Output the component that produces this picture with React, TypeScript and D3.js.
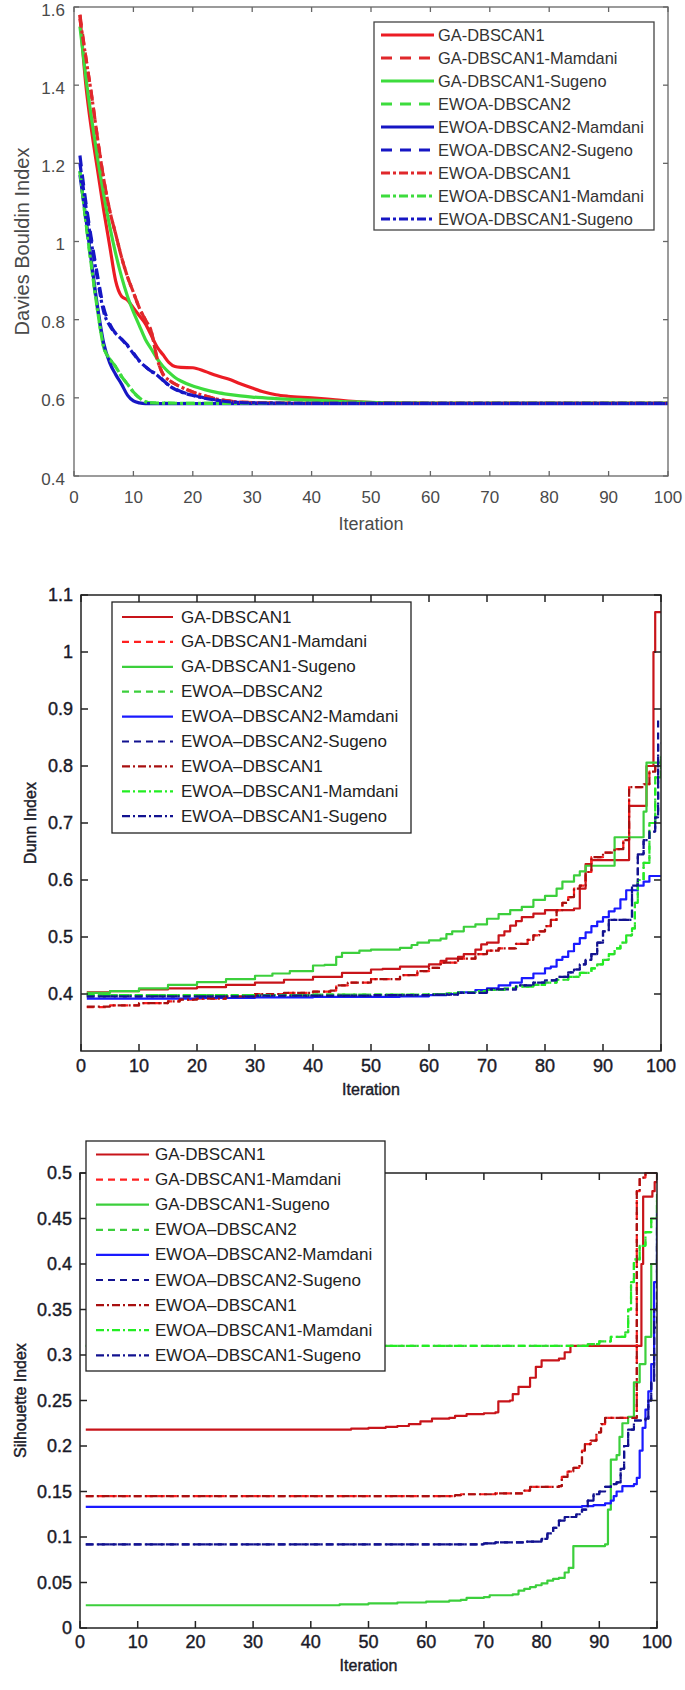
import React from 'react';
import * as d3 from 'd3';

type Pt = [number, number];

// ---------- labels ----------
const namesDB = ['GA-DBSCAN1', 'GA-DBSCAN1-Mamdani', 'GA-DBSCAN1-Sugeno', 'EWOA-DBSCAN2', 'EWOA-DBSCAN2-Mamdani', 'EWOA-DBSCAN2-Sugeno', 'EWOA-DBSCAN1', 'EWOA-DBSCAN1-Mamdani', 'EWOA-DBSCAN1-Sugeno'];
const namesDS = ['GA-DBSCAN1', 'GA-DBSCAN1-Mamdani', 'GA-DBSCAN1-Sugeno', 'EWOA\u2013DBSCAN2', 'EWOA\u2013DBSCAN2-Mamdani', 'EWOA\u2013DBSCAN2-Sugeno', 'EWOA\u2013DBSCAN1', 'EWOA\u2013DBSCAN1-Mamdani', 'EWOA\u2013DBSCAN1-Sugeno'];

const iterationTicks = [0, 10, 20, 30, 40, 50, 60, 70, 80, 90, 100];
const dbTicks = [0.4, 0.6, 0.8, 1, 1.2, 1.4, 1.6];
const dunnTicks = [0.4, 0.5, 0.6, 0.7, 0.8, 0.9, 1, 1.1];
const silTicks = [0, 0.05, 0.1, 0.15, 0.2, 0.25, 0.3, 0.35, 0.4, 0.45, 0.5];

// ---------- Davies Bouldin ----------
const dbGa1: Pt[] = [[1, 1.58], [2, 1.4], [3, 1.28], [4, 1.18], [5, 1.08], [6, 0.99], [7, 0.9], [8, 0.86], [9, 0.85], [10, 0.83], [11, 0.81], [12, 0.79], [13, 0.76], [14, 0.73], [15, 0.71], [16, 0.69], [17, 0.68], [18, 0.678], [20, 0.677], [22, 0.668], [24, 0.657], [26, 0.648], [28, 0.636], [30, 0.625], [32, 0.615], [34, 0.608], [36, 0.604], [40, 0.6], [44, 0.595], [48, 0.59], [52, 0.587], [60, 0.586], [100, 0.586]];
const dbGa1Mamdani: Pt[] = [[1, 1.58], [2, 1.47], [3, 1.37], [4, 1.26], [5, 1.16], [6, 1.08], [7, 1.02], [8, 0.96], [9, 0.91], [10, 0.87], [11, 0.83], [12, 0.8], [13, 0.77], [14, 0.7], [15, 0.66], [16, 0.645], [18, 0.628], [20, 0.615], [22, 0.605], [24, 0.597], [26, 0.592], [30, 0.588], [40, 0.586], [100, 0.586]];
const dbGa1Sugeno: Pt[] = [[1, 1.55], [2, 1.42], [3, 1.31], [4, 1.21], [5, 1.12], [6, 1.04], [7, 0.97], [8, 0.91], [9, 0.86], [10, 0.82], [11, 0.785], [12, 0.75], [13, 0.725], [14, 0.7], [15, 0.68], [16, 0.665], [17, 0.652], [18, 0.643], [20, 0.63], [22, 0.621], [24, 0.614], [26, 0.609], [28, 0.605], [30, 0.602], [34, 0.598], [40, 0.594], [46, 0.59], [52, 0.587], [60, 0.586], [100, 0.586]];
const dbEwoa2: Pt[] = [[1, 1.18], [2, 1.05], [3, 0.93], [4, 0.82], [5, 0.73], [6, 0.7], [7, 0.68], [8, 0.655], [9, 0.635], [10, 0.615], [11, 0.6], [12, 0.59], [13, 0.587], [20, 0.586], [100, 0.586]];
const dbEwoa2Mamdani: Pt[] = [[1, 1.17], [2, 1.06], [3, 0.94], [4, 0.83], [5, 0.74], [6, 0.69], [7, 0.66], [8, 0.635], [9, 0.607], [10, 0.592], [11, 0.587], [12, 0.585], [100, 0.585]];
const dbEwoa2Sugeno: Pt[] = [[1, 1.22], [2, 1.1], [3, 1.0], [4, 0.91], [5, 0.83], [6, 0.79], [7, 0.765], [8, 0.75], [9, 0.735], [10, 0.715], [11, 0.695], [12, 0.68], [13, 0.668], [14, 0.66], [15, 0.645], [16, 0.632], [17, 0.623], [18, 0.616], [20, 0.607], [22, 0.6], [24, 0.594], [26, 0.59], [30, 0.587], [40, 0.586], [100, 0.586]];
const dbEwoa1: Pt[] = [[1, 1.57], [2, 1.47], [3, 1.37], [4, 1.26], [5, 1.16], [6, 1.08], [7, 1.02], [8, 0.96], [9, 0.91], [10, 0.87], [11, 0.83], [12, 0.8], [13, 0.77], [14, 0.7], [15, 0.66], [16, 0.645], [18, 0.628], [20, 0.615], [22, 0.605], [24, 0.597], [26, 0.592], [30, 0.588], [40, 0.586], [100, 0.586]];
const dbEwoa1Mamdani: Pt[] = [[1, 1.18], [2, 1.05], [3, 0.93], [4, 0.82], [5, 0.73], [6, 0.7], [7, 0.68], [8, 0.655], [9, 0.635], [10, 0.615], [11, 0.6], [12, 0.59], [13, 0.587], [20, 0.586], [100, 0.586]];
const dbEwoa1Sugeno: Pt[] = [[1, 1.2], [2, 1.09], [3, 0.99], [4, 0.9], [5, 0.82], [6, 0.785], [7, 0.765], [8, 0.75], [9, 0.733], [10, 0.713], [11, 0.694], [12, 0.68], [13, 0.668], [14, 0.658], [15, 0.644], [16, 0.631], [17, 0.622], [18, 0.615], [20, 0.606], [22, 0.599], [24, 0.594], [26, 0.59], [30, 0.587], [40, 0.586], [100, 0.586]];

// ---------- Dunn ----------
const dnGa1: Pt[] = [[1, 0.403], [5, 0.405], [10, 0.408], [15, 0.41], [20, 0.412], [25, 0.416], [30, 0.42], [35, 0.425], [40, 0.43], [45, 0.437], [50, 0.443], [52, 0.444], [55, 0.448], [60, 0.452], [62, 0.458], [63, 0.462], [65, 0.465], [66, 0.47], [68, 0.478], [69, 0.487], [70, 0.49], [72, 0.503], [73, 0.51], [74, 0.52], [75, 0.528], [76, 0.535], [78, 0.541], [80, 0.547], [85, 0.55], [86, 0.585], [87, 0.628], [88, 0.635], [94.5, 0.73], [97.5, 0.8], [98.7, 1.0], [99, 1.07], [100, 1.07]];
const dnGa1Mamdani: Pt[] = [[1, 0.377], [5, 0.38], [10, 0.384], [15, 0.387], [17, 0.39], [20, 0.392], [25, 0.396], [30, 0.4], [35, 0.402], [40, 0.404], [43, 0.406], [44, 0.415], [46, 0.42], [50, 0.426], [55, 0.433], [58, 0.44], [60, 0.446], [62, 0.455], [65, 0.462], [68, 0.47], [70, 0.476], [72, 0.48], [75, 0.488], [77, 0.495], [78, 0.503], [79, 0.51], [80, 0.519], [81, 0.53], [82, 0.547], [83, 0.56], [84, 0.57], [85, 0.585], [86, 0.59], [87, 0.614], [88, 0.64], [90, 0.648], [92, 0.654], [93.5, 0.67], [94.5, 0.763], [97, 0.768], [98, 0.79], [99, 0.8], [100, 0.8]];
const dnGa1Sugeno: Pt[] = [[1, 0.402], [5, 0.405], [10, 0.41], [15, 0.416], [20, 0.421], [25, 0.426], [30, 0.432], [33, 0.436], [36, 0.44], [40, 0.45], [42, 0.451], [44, 0.465], [45, 0.472], [48, 0.476], [50, 0.478], [55, 0.481], [57, 0.486], [58, 0.49], [60, 0.494], [62, 0.497], [63, 0.505], [64, 0.51], [66, 0.518], [68, 0.522], [70, 0.532], [72, 0.54], [74, 0.547], [76, 0.553], [78, 0.565], [80, 0.572], [82, 0.585], [83, 0.597], [85, 0.608], [86, 0.615], [87, 0.625], [92, 0.675], [97, 0.72], [97.5, 0.806], [100, 0.806]];
const dnEwoa2: Pt[] = [[1, 0.398], [20, 0.398], [40, 0.399], [60, 0.4], [63, 0.401], [65, 0.403], [68, 0.405], [70, 0.407], [73, 0.41], [75, 0.413], [78, 0.416], [80, 0.42], [82, 0.425], [84, 0.43], [86, 0.437], [88, 0.445], [89, 0.452], [90, 0.46], [91, 0.47], [92, 0.48], [93, 0.49], [94, 0.503], [95, 0.515], [95.5, 0.56], [96, 0.6], [97, 0.63], [98, 0.7], [99, 0.78], [100, 0.82]];
const dnEwoa2Mamdani: Pt[] = [[1, 0.392], [20, 0.393], [30, 0.394], [40, 0.395], [55, 0.396], [60, 0.398], [63, 0.4], [65, 0.403], [68, 0.407], [70, 0.41], [72, 0.415], [74, 0.42], [76, 0.428], [78, 0.436], [80, 0.445], [81, 0.448], [82, 0.46], [83, 0.465], [84, 0.475], [85, 0.488], [86, 0.498], [87, 0.508], [88, 0.519], [89, 0.527], [90, 0.535], [91, 0.545], [92, 0.55], [93, 0.566], [94, 0.582], [96, 0.59], [97, 0.597], [98, 0.607], [100, 0.607]];
const dnEwoa2Sugeno: Pt[] = [[1, 0.396], [30, 0.397], [50, 0.398], [60, 0.399], [65, 0.402], [70, 0.408], [75, 0.415], [78, 0.42], [80, 0.424], [82, 0.43], [84, 0.438], [85, 0.443], [86, 0.452], [87, 0.46], [88, 0.47], [89, 0.49], [90, 0.51], [91, 0.53], [95, 0.59], [96, 0.645], [97, 0.67], [98, 0.685], [99, 0.71], [99.5, 0.88], [100, 0.88]];
const dnEwoa1: Pt[] = [[1, 0.378], [5, 0.38], [10, 0.384], [15, 0.387], [17, 0.39], [20, 0.392], [25, 0.396], [30, 0.4], [35, 0.402], [40, 0.404], [43, 0.406], [44, 0.415], [46, 0.42], [50, 0.426], [55, 0.433], [58, 0.44], [60, 0.446], [62, 0.455], [65, 0.462], [68, 0.47], [70, 0.476], [72, 0.48], [75, 0.488], [77, 0.495], [78, 0.503], [79, 0.51], [80, 0.519], [81, 0.53], [82, 0.547], [83, 0.56], [84, 0.57], [85, 0.585], [86, 0.59], [87, 0.614], [88, 0.64], [90, 0.648], [92, 0.654], [93.5, 0.67], [94.5, 0.763], [97, 0.768], [98, 0.79], [99, 0.8], [100, 0.8]];
const dnEwoa1Mamdani: Pt[] = [[1, 0.398], [20, 0.398], [40, 0.399], [60, 0.4], [63, 0.401], [65, 0.403], [68, 0.405], [70, 0.407], [73, 0.41], [75, 0.413], [78, 0.416], [80, 0.42], [82, 0.425], [84, 0.43], [86, 0.437], [88, 0.445], [89, 0.452], [90, 0.46], [91, 0.47], [92, 0.48], [93, 0.49], [94, 0.503], [95, 0.515], [95.5, 0.56], [96, 0.6], [97, 0.63], [98, 0.7], [99, 0.78], [100, 0.82]];
const dnEwoa1Sugeno: Pt[] = [[1, 0.396], [30, 0.397], [50, 0.398], [60, 0.399], [65, 0.402], [70, 0.408], [75, 0.415], [78, 0.42], [80, 0.424], [82, 0.43], [84, 0.438], [85, 0.443], [86, 0.452], [87, 0.46], [88, 0.47], [89, 0.49], [90, 0.51], [91, 0.53], [94.5, 0.53], [95, 0.59], [96, 0.645], [97, 0.67], [98, 0.685], [99, 0.71], [99.5, 0.84], [100, 0.84]];

// ---------- Silhouette ----------
const siGa1: Pt[] = [[1, 0.218], [47, 0.219], [50, 0.22], [53, 0.221], [55, 0.222], [57, 0.224], [59, 0.227], [61, 0.23], [64, 0.231], [65, 0.233], [67, 0.235], [70, 0.236], [72, 0.237], [72.5, 0.249], [74.5, 0.25], [75, 0.257], [76, 0.265], [78, 0.275], [79, 0.287], [80, 0.294], [83, 0.296], [84, 0.303], [85, 0.31], [97, 0.31], [97.3, 0.4], [97.6, 0.474], [99.2, 0.48], [99.6, 0.49], [100, 0.5]];
const siGa1Mamdani: Pt[] = [[1, 0.145], [65, 0.146], [66, 0.147], [72, 0.148], [77, 0.151], [78, 0.155], [83, 0.156], [83.5, 0.166], [84.5, 0.172], [85.5, 0.176], [86.5, 0.178], [87, 0.195], [87.5, 0.202], [88.5, 0.206], [89.5, 0.215], [90.3, 0.224], [91, 0.231], [96.2, 0.231], [96.5, 0.48], [97, 0.495], [98, 0.5], [100, 0.5]];
const siGa1Sugeno: Pt[] = [[1, 0.025], [45, 0.026], [50, 0.027], [55, 0.028], [60, 0.029], [64, 0.03], [66, 0.031], [67, 0.033], [70, 0.034], [71, 0.036], [75, 0.037], [76, 0.041], [77, 0.043], [78, 0.045], [79, 0.047], [80, 0.049], [81, 0.052], [82, 0.054], [83, 0.055], [84, 0.061], [84.7, 0.066], [85.5, 0.09], [91, 0.092], [91.5, 0.13], [92, 0.185], [93, 0.19], [93.5, 0.21], [94, 0.225], [95, 0.232], [96, 0.27], [97, 0.29], [98, 0.32], [99, 0.4], [100, 0.477]];
const siEwoa2: Pt[] = [[1, 0.31], [85, 0.31], [88, 0.312], [90, 0.315], [92, 0.32], [94.5, 0.325], [95, 0.35], [95.5, 0.38], [96, 0.405], [97, 0.42], [98, 0.435], [99, 0.45], [100, 0.465]];
const siEwoa2Mamdani: Pt[] = [[1, 0.133], [87, 0.134], [89, 0.135], [91, 0.137], [92, 0.14], [92.5, 0.145], [93, 0.15], [94, 0.156], [96, 0.158], [96.5, 0.165], [97, 0.195], [97.5, 0.22], [98, 0.24], [98.5, 0.26], [99, 0.29], [99.5, 0.38], [100, 0.46]];
const siEwoa2Sugeno: Pt[] = [[1, 0.092], [70, 0.093], [72, 0.094], [77, 0.095], [80, 0.098], [81, 0.104], [82, 0.11], [83, 0.118], [84, 0.122], [86, 0.125], [87, 0.13], [88, 0.14], [89, 0.147], [90, 0.15], [91, 0.155], [92, 0.158], [93, 0.16], [93.7, 0.175], [94.3, 0.2], [95, 0.218], [96, 0.228], [98, 0.23], [98.5, 0.25], [99, 0.27], [99.5, 0.33], [100, 0.42]];
const siEwoa1: Pt[] = [[1, 0.145], [65, 0.146], [66, 0.147], [72, 0.148], [77, 0.151], [78, 0.155], [83, 0.156], [83.5, 0.166], [84.5, 0.172], [85.5, 0.176], [86.5, 0.178], [87, 0.195], [87.5, 0.202], [88.5, 0.206], [89.5, 0.215], [90.3, 0.224], [91, 0.231], [96.2, 0.231], [96.5, 0.48], [97, 0.495], [98, 0.5], [100, 0.5]];
const siEwoa1Mamdani: Pt[] = [[1, 0.31], [85, 0.31], [88, 0.312], [90, 0.315], [92, 0.32], [94.5, 0.325], [95, 0.35], [95.5, 0.38], [96, 0.405], [97, 0.42], [98, 0.435], [99, 0.45], [100, 0.47]];
const siEwoa1Sugeno: Pt[] = [[1, 0.092], [70, 0.093], [72, 0.094], [77, 0.095], [80, 0.098], [81, 0.104], [82, 0.11], [83, 0.118], [84, 0.122], [86, 0.125], [87, 0.13], [88, 0.14], [89, 0.147], [90, 0.15], [91, 0.155], [92, 0.158], [93, 0.16], [93.7, 0.175], [94.3, 0.2], [95, 0.218], [96, 0.228], [98, 0.23], [98.5, 0.25], [99, 0.27], [99.5, 0.35], [100, 0.44]];

const dbSeries = [dbGa1, dbGa1Mamdani, dbGa1Sugeno, dbEwoa2, dbEwoa2Mamdani, dbEwoa2Sugeno, dbEwoa1, dbEwoa1Mamdani, dbEwoa1Sugeno];
const dnSeries = [dnGa1, dnGa1Mamdani, dnGa1Sugeno, dnEwoa2, dnEwoa2Mamdani, dnEwoa2Sugeno, dnEwoa1, dnEwoa1Mamdani, dnEwoa1Sugeno];
const siSeries = [siGa1, siGa1Mamdani, siGa1Sugeno, siEwoa2, siEwoa2Mamdani, siEwoa2Sugeno, siEwoa1, siEwoa1Mamdani, siEwoa1Sugeno];

type Style = { color: string; dash: string; width: number };

const FONT = "'Liberation Sans', Arial, Helvetica, sans-serif";

const styles1: Style[] = [
  { color: '#ec1c24', dash: '', width: 3.2 },
  { color: '#e0282b', dash: '11 8', width: 3.2 },
  { color: '#3ddc3d', dash: '', width: 3.2 },
  { color: '#3ddc3d', dash: '11 8', width: 3.2 },
  { color: '#1616c4', dash: '', width: 3.2 },
  { color: '#1616c4', dash: '11 8', width: 3.2 },
  { color: '#e0282b', dash: '9 3 3 3', width: 3.2 },
  { color: '#3ddc3d', dash: '9 3 3 3', width: 3.2 },
  { color: '#1616c4', dash: '9 3 3 3', width: 3.2 },
];
const styles23: Style[] = [
  { color: '#c8141a', dash: '', width: 2.2 },
  { color: '#ff2020', dash: '7 5', width: 2.2 },
  { color: '#3ccf3c', dash: '', width: 2.2 },
  { color: '#3ccf3c', dash: '7 5', width: 2.2 },
  { color: '#1a1aff', dash: '', width: 2.2 },
  { color: '#121290', dash: '7 5', width: 2.2 },
  { color: '#a81010', dash: '8 3 2 3', width: 2.2 },
  { color: '#22ee22', dash: '8 3 2 3', width: 2.2 },
  { color: '#121290', dash: '8 3 2 3', width: 2.2 },
];

interface Cfg {
  id: string;
  left: number; right: number; top: number; bottom: number;
  yDomain: [number, number];
  yTicks: number[];
  series: Pt[][];
  names: string[];
  styles: Style[];
  curve: d3.CurveFactory;
  tickLen: number;
  axisColor: string;
  axisWidth: number;
  textColor: string;
  tickFont: number;
  tickStroke: number;
  yLabelGap: number;
  yLabelDy: number;
  xLabelOffset: number;
  yTitle: string;
  yTitleX: number;
  yTitleFont: number;
  xTitleY: number;
  xTitleFont: number;
  legend: { x0: number; y0: number; x1: number; y1: number; row0: number; rowGap: number; lx0: number; lx1: number; tx: number; font: number; color: string; border: string };
}

function Panel({ cfg }: { cfg: Cfg }) {
  const x = d3.scaleLinear().domain([0, 100]).range([cfg.left, cfg.right]);
  const y = d3.scaleLinear().domain(cfg.yDomain).range([cfg.bottom, cfg.top]);
  const line = d3.line<Pt>().x(d => x(d[0])).y(d => y(d[1])).curve(cfg.curve);
  const fmt = (v: number) => String(+v.toFixed(2));
  const L = cfg.legend;
  const textStyle = { fontFamily: FONT };
  const strokeProps = cfg.tickStroke ? { stroke: cfg.textColor, strokeWidth: cfg.tickStroke } : {};
  return (
    <g>
      <defs>
        <clipPath id={cfg.id + '-clip'}>
          <rect x={cfg.left} y={cfg.top - 2} width={cfg.right - cfg.left} height={cfg.bottom - cfg.top + 2} />
        </clipPath>
      </defs>
      <g clipPath={`url(#${cfg.id}-clip)`} fill="none" strokeLinejoin="round">
        {cfg.series.map((s, i) => (
          <path key={i} d={line(s) || ''} stroke={cfg.styles[i].color} strokeWidth={cfg.styles[i].width} strokeDasharray={cfg.styles[i].dash || undefined} />
        ))}
      </g>
      <rect x={cfg.left} y={cfg.top} width={cfg.right - cfg.left} height={cfg.bottom - cfg.top} fill="none" stroke={cfg.axisColor} strokeWidth={cfg.axisWidth} />
      {iterationTicks.map(t => (
        <g key={'x' + t}>
          <line x1={x(t)} x2={x(t)} y1={cfg.bottom} y2={cfg.bottom - cfg.tickLen} stroke={cfg.axisColor} strokeWidth={cfg.axisWidth} />
          <line x1={x(t)} x2={x(t)} y1={cfg.top} y2={cfg.top + cfg.tickLen} stroke={cfg.axisColor} strokeWidth={cfg.axisWidth} />
          <text x={x(t)} y={cfg.bottom + cfg.xLabelOffset} textAnchor="middle" dominantBaseline="central" fontSize={cfg.tickFont} fill={cfg.textColor} {...strokeProps} style={textStyle}>{t}</text>
        </g>
      ))}
      {cfg.yTicks.map(t => (
        <g key={'y' + t}>
          <line x1={cfg.left} x2={cfg.left + cfg.tickLen} y1={y(t)} y2={y(t)} stroke={cfg.axisColor} strokeWidth={cfg.axisWidth} />
          <line x1={cfg.right} x2={cfg.right - cfg.tickLen} y1={y(t)} y2={y(t)} stroke={cfg.axisColor} strokeWidth={cfg.axisWidth} />
          <text x={cfg.left - cfg.yLabelGap} y={y(t) + cfg.yLabelDy} textAnchor="end" dominantBaseline="central" fontSize={cfg.tickFont} fill={cfg.textColor} {...strokeProps} style={textStyle}>{fmt(t)}</text>
        </g>
      ))}
      <text transform={`translate(${cfg.yTitleX},${(cfg.top + cfg.bottom) / 2}) rotate(-90)`} textAnchor="middle" dominantBaseline="central" fontSize={cfg.yTitleFont} fill={cfg.textColor} {...strokeProps} style={textStyle}>{cfg.yTitle}</text>
      <text x={(cfg.left + cfg.right) / 2} y={cfg.xTitleY} textAnchor="middle" dominantBaseline="central" fontSize={cfg.xTitleFont} fill={cfg.textColor} {...strokeProps} style={textStyle}>Iteration</text>
      <rect x={L.x0} y={L.y0} width={L.x1 - L.x0} height={L.y1 - L.y0} fill="#fff" stroke={L.border} strokeWidth={1.3} />
      {cfg.names.map((n, i) => {
        const ry = L.row0 + i * L.rowGap;
        const st = cfg.styles[i];
        return (
          <g key={'l' + i}>
            <line x1={L.lx0} x2={L.lx1} y1={ry} y2={ry} stroke={st.color} strokeWidth={st.width} strokeDasharray={st.dash || undefined} />
            <text x={L.tx} y={ry} dominantBaseline="central" fontSize={L.font} fill={L.color} style={textStyle}>{n}</text>
          </g>
        );
      })}
    </g>
  );
}

export default function App() {
  const cfg1: Cfg = {
    id: 'db', left: 74, right: 668, top: 7, bottom: 476,
    yDomain: [0.4, 1.6], yTicks: dbTicks, series: dbSeries, names: namesDB, styles: styles1,
    curve: d3.curveMonotoneX, tickLen: 5, axisColor: '#666', axisWidth: 1.3, textColor: '#4a4a4a',
    tickFont: 17, tickStroke: 0, yLabelGap: 9, yLabelDy: 3, xLabelOffset: 21,
    yTitle: 'Davies Bouldin Index', yTitleX: 22, yTitleFont: 20, xTitleY: 524, xTitleFont: 18,
    legend: { x0: 374, y0: 22, x1: 654, y1: 230, row0: 35, rowGap: 23, lx0: 381, lx1: 434, tx: 438, font: 16.4, color: '#333', border: '#444' },
  };
  const cfg2: Cfg = {
    id: 'dn', left: 81, right: 661, top: 595, bottom: 1051,
    yDomain: [0.3, 1.1], yTicks: dunnTicks, series: dnSeries, names: namesDS, styles: styles23,
    curve: d3.curveStepAfter, tickLen: 7, axisColor: '#222', axisWidth: 1.5, textColor: '#1a1a28',
    tickFont: 18, tickStroke: 0.4, yLabelGap: 8, yLabelDy: 0, xLabelOffset: 15,
    yTitle: 'Dunn Index', yTitleX: 30, yTitleFont: 16, xTitleY: 1089, xTitleFont: 16,
    legend: { x0: 112, y0: 602, x1: 411, y1: 833, row0: 617, rowGap: 24.9, lx0: 122, lx1: 173, tx: 181, font: 17, color: '#222', border: '#222' },
  };
  const cfg3: Cfg = {
    id: 'si', left: 80, right: 657, top: 1173, bottom: 1628,
    yDomain: [0, 0.5], yTicks: silTicks, series: siSeries, names: namesDS, styles: styles23,
    curve: d3.curveStepAfter, tickLen: 7, axisColor: '#222', axisWidth: 1.5, textColor: '#1a1a28',
    tickFont: 18, tickStroke: 0.4, yLabelGap: 8, yLabelDy: 0, xLabelOffset: 14,
    yTitle: 'Silhouette Index', yTitleX: 20, yTitleFont: 16, xTitleY: 1665, xTitleFont: 16,
    legend: { x0: 86, y0: 1141, x1: 385, y1: 1371, row0: 1154.5, rowGap: 25.1, lx0: 96, lx1: 149, tx: 155, font: 17, color: '#222', border: '#222' },
  };
  return (
    <svg width={685} height={1690} style={{ position: 'absolute', left: 0, top: 0, background: '#fff' }}>
      <rect x={0} y={0} width={685} height={1690} fill="#fff" />
      <Panel cfg={cfg1} />
      <Panel cfg={cfg2} />
      <Panel cfg={cfg3} />
    </svg>
  );
}
